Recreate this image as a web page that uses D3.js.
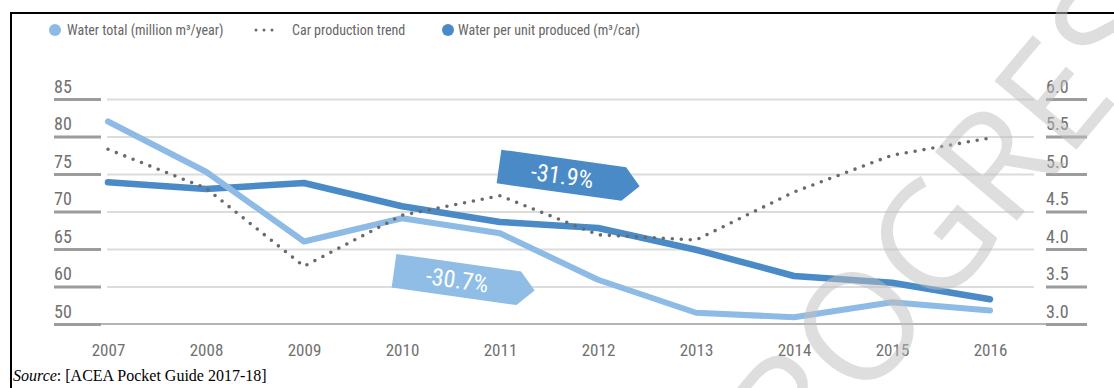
<!DOCTYPE html>
<html>
<head>
<meta charset="utf-8">
<script src="https://cdn.jsdelivr.net/npm/d3@7"></script>
<style>
  body { margin: 0; background: #fff; }
  svg { display: block; }
  .cond { font-family: "Liberation Sans Narrow", "Roboto Condensed", "DejaVu Sans Condensed", Roboto, sans-serif; font-stretch: condensed; }
</style>
</head>
<body>
<svg id="chart" width="1114" height="388"></svg>
<script>
// ---- data ----
const years = [2007, 2008, 2009, 2010, 2011, 2012, 2013, 2014, 2015, 2016];
// Water total, million m³ per year (left axis)
const waterTotal = [82.0, 75.3, 66.0, 69.1, 67.1, 60.9, 56.5, 55.9, 57.9, 56.8];
// Car production trend (index drawn against the left axis)
const carTrend = [78.3, 73.1, 62.7, 69.5, 72.1, 66.9, 66.2, 72.6, 77.5, 79.8];
// Water per unit produced, m³ per car (right axis)
const waterPerUnit = [4.89, 4.80, 4.88, 4.57, 4.36, 4.28, 3.99, 3.64, 3.55, 3.33];

const leftTicks = [85, 80, 75, 70, 65, 60, 55];
const leftTickLabels = ["85", "80", "75", "70", "65", "60", "50"];
const rightTicks = [6.0, 5.5, 5.0, 4.5, 4.0, 3.5, 3.0];
const rightTickLabels = ["6.0", "5.5", "5.0", "4.5", "4.0", "3.5", "3.0"];

const legendLabels = ["Water total (million m³/year)", "Car production trend", "Water per unit produced (m³/car)"];
const sourceLabel = ["Source", ": [ACEA Pocket Guide 2017-18]"];
const watermarkText = "PROGRESS";

// ---- colours ----
const cLight = "#8dbbe5";
const cDark = "#4a8bc7";
const cDots = "#6a6a6a";
const cText = "#707070";

const svg = d3.select("#chart");

// ---- scales ----
const x = d3.scalePoint().domain(years).range([108, 990]);
const yLeft = d3.scaleLinear().domain([55, 85]).range([324, 99]);
const yRight = d3.scaleLinear().domain([3, 6]).range([324, 99]);

// ---- frame ----
svg.append("path")
  .attr("d", "M11,388V13H1114")
  .attr("fill", "none").attr("stroke", "#000").attr("stroke-width", 2);

// ---- gridlines ----
const grid = svg.append("g").attr("transform", "translate(1034,0)")
  .call(d3.axisLeft(yRight).tickValues(rightTicks.slice(0, -1)).tickSize(1034 - 107).tickFormat(""));
grid.select(".domain").remove();
grid.selectAll("line").attr("stroke", "#dcdcdc").attr("stroke-width", 2);

// baseline
svg.append("line")
  .attr("x1", 54).attr("x2", 1087)
  .attr("y1", yRight(3)).attr("y2", yRight(3))
  .attr("stroke", "#b4b4b4").attr("stroke-width", 2);

// ---- left axis ----
const gl = svg.append("g").attr("class", "cond").attr("transform", "translate(54,0)")
  .call(d3.axisRight(yLeft).tickValues(leftTicks).tickSize(47)
    .tickFormat((d, i) => leftTickLabels[i]));
gl.select(".domain").remove();
gl.selectAll("line").attr("stroke", "#9c9c9c").attr("stroke-width", 3);
gl.selectAll("text")
  .attr("x", 0).attr("dy", -7).attr("text-anchor", "start")
  .attr("fill", cText).style("font-size", "18px");

// ---- right axis ----
const gr = svg.append("g").attr("class", "cond").attr("transform", "translate(1046,0)")
  .call(d3.axisRight(yRight).tickValues(rightTicks).tickSize(41)
    .tickFormat((d, i) => rightTickLabels[i]));
gr.select(".domain").remove();
gr.selectAll("line").attr("stroke", "#9c9c9c").attr("stroke-width", 3);
gr.selectAll("text")
  .attr("x", 0).attr("dy", -7).attr("text-anchor", "start")
  .attr("fill", cText).style("font-size", "18px");

// ---- x axis ----
const gx = svg.append("g").attr("class", "cond").attr("transform", "translate(0,339)")
  .call(d3.axisBottom(x).tickSize(0).tickPadding(0));
gx.select(".domain").remove();
gx.selectAll("text").attr("fill", cText).attr("dy", "1em").style("font-size", "17px");

// ---- series ----
const line = (ys, scale) => d3.line()
  .x((d, i) => x(years[i]))
  .y(d => scale(d))(ys);

svg.append("path").attr("d", line(waterPerUnit, yRight))
  .attr("fill", "none").attr("stroke", cDark).attr("stroke-width", 6.5)
  .attr("stroke-linejoin", "round").attr("stroke-linecap", "round");

svg.append("path").attr("d", line(waterTotal, yLeft))
  .attr("fill", "none").attr("stroke", cLight).attr("stroke-width", 6)
  .attr("stroke-linejoin", "round").attr("stroke-linecap", "round");

svg.append("path").attr("d", line(carTrend, yLeft))
  .attr("fill", "none").attr("stroke", cDots).attr("stroke-width", 3.6)
  .attr("stroke-dasharray", "0,9").attr("stroke-linecap", "round");

// ---- change badges ----
const pct = arr => ((arr[arr.length - 1] - arr[0]) / arr[0] * 100).toFixed(1) + "%";
const badges = [
  { text: pct(waterPerUnit), fill: cDark, px: x(2011) - 1, py: yRight(5.1) },
  { text: pct(waterTotal), fill: "#8fbde6", px: x(2010) - 8, py: yLeft(62.1) }
];
const tag = "M0,-17H126L142,0L126,17H0Z";
badges.forEach(b => {
  const g = svg.append("g").attr("transform", `translate(${b.px},${b.py}) rotate(8)`);
  g.append("path").attr("d", tag).attr("fill", b.fill);
  g.append("text").attr("class", "cond")
    .attr("x", 64).attr("y", 0).attr("dy", "0.36em")
    .attr("text-anchor", "middle").attr("fill", "#fff")
    .style("font-size", "24px").text(b.text);
});

// ---- legend ----
const ly = 30;
const lg = svg.append("g").attr("class", "cond").style("font-size", "14px").attr("fill", "#666");
lg.append("circle").attr("cx", 55).attr("cy", ly).attr("r", 6).attr("fill", cLight);
lg.append("text").attr("x", 67).attr("y", ly).attr("dy", "0.35em").text(legendLabels[0]);
lg.append("line").attr("x1", 256).attr("x2", 280).attr("y1", ly).attr("y2", ly)
  .attr("stroke", cDots).attr("stroke-width", 3).attr("stroke-dasharray", "0,8").attr("stroke-linecap", "round");
lg.append("text").attr("x", 292).attr("y", ly).attr("dy", "0.35em").text(legendLabels[1]);
lg.append("circle").attr("cx", 448).attr("cy", ly).attr("r", 6).attr("fill", cDark);
lg.append("text").attr("x", 458).attr("y", ly).attr("dy", "0.35em").text(legendLabels[2]);

// ---- source line ----
const st = svg.append("text").attr("x", 13).attr("y", 381)
  .style("font-family", "'Liberation Serif', 'Times New Roman', serif").style("font-size", "16px").attr("fill", "#000");
st.append("tspan").style("font-style", "italic").text(sourceLabel[0]);
st.append("tspan").text(sourceLabel[1]);

// ---- watermark ----
svg.append("text")
  .attr("transform", "translate(745,545) rotate(-50)")
  .style("font-family", "'Open Sans', sans-serif").style("font-size", "150px")
  .attr("fill", "#bdbdbd").attr("fill-opacity", 0.5)
  .text(watermarkText);
</script>
</body>
</html>
